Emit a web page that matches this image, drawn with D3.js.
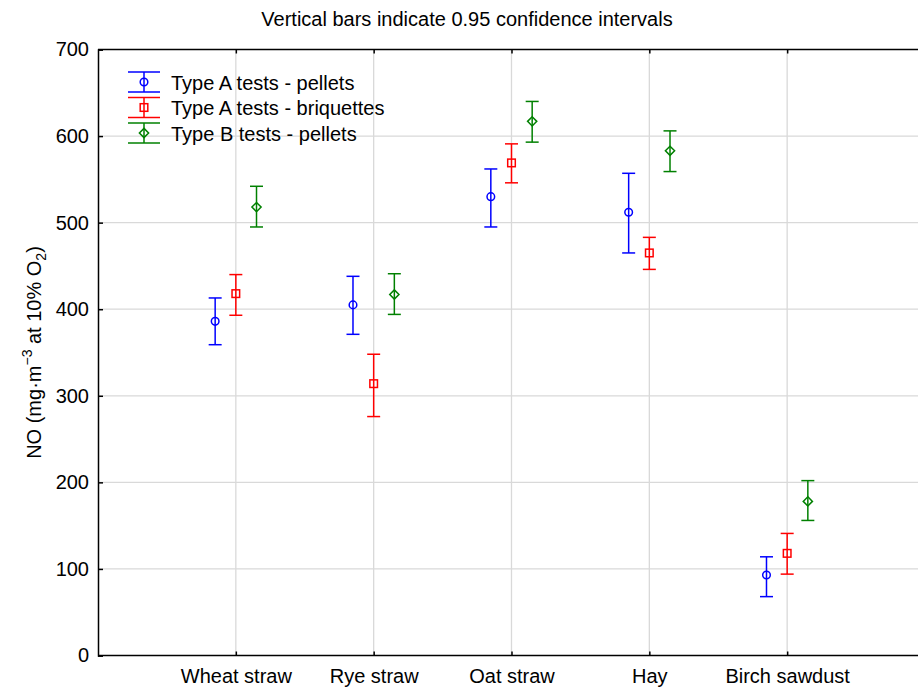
<!DOCTYPE html>
<html>
<head>
<meta charset="utf-8">
<script src="https://cdn.jsdelivr.net/npm/d3@7"></script>
<style>
  body { margin: 0; background: #fff; }
  svg { display: block; font-family: "Liberation Sans", Arial, sans-serif; }
</style>
</head>
<body>
<div id="chart"></div>
<script>
// categories and series
const categories = ['Wheat straw', 'Rye straw', 'Oat straw', 'Hay', 'Birch sawdust'];
const seriesNames = ['Type A tests - pellets', 'Type A tests - briquettes', 'Type B tests - pellets'];
const yTicks = [0, 100, 200, 300, 400, 500, 600, 700];

// means and 0.95 confidence limits, one value per category
const pelletsAMean = [386, 405, 530, 512, 93];
const pelletsALow  = [359, 371, 495, 465, 68];
const pelletsAHigh = [413, 438, 562, 557, 114];

const briqAMean = [418, 314, 569, 465, 118];
const briqALow  = [393, 276, 546, 446, 94];
const briqAHigh = [440, 348, 591, 483, 141];

const pelletsBMean = [518, 417, 617, 583, 178];
const pelletsBLow  = [495, 394, 593, 559, 156];
const pelletsBHigh = [542, 441, 640, 606, 202];

const W = 918, H = 689;
const plotLeft = 98, plotTop = 49.5, plotBottom = 655.5;
const fontSize = '20px';

const series = [
  { name: seriesNames[0], color: '#0000ff', shape: 'circle', offset: -0.15, mean: pelletsAMean, low: pelletsALow, high: pelletsAHigh },
  { name: seriesNames[1], color: '#ff0000', shape: 'square', offset: 0, mean: briqAMean, low: briqALow, high: briqAHigh },
  { name: seriesNames[2], color: '#008000', shape: 'diamond', offset: 0.15, mean: pelletsBMean, low: pelletsBLow, high: pelletsBHigh }
];

const svg = d3.select('#chart').append('svg')
  .attr('width', W)
  .attr('height', H);

const x = d3.scaleLinear().domain([0, 6]).range([plotLeft, 925]);
const y = d3.scaleLinear().domain([0, 700]).range([plotBottom, plotTop]);

// grid
svg.append('g').selectAll('line')
  .data(yTicks.slice(1, -1))
  .enter().append('line')
  .attr('x1', plotLeft).attr('x2', W)
  .attr('y1', d => y(d)).attr('y2', d => y(d))
  .attr('stroke', '#d9d9d9').attr('stroke-width', 1.3);

svg.append('g').selectAll('line')
  .data(categories)
  .enter().append('line')
  .attr('x1', (d, i) => x(i + 1)).attr('x2', (d, i) => x(i + 1))
  .attr('y1', plotTop).attr('y2', plotBottom)
  .attr('stroke', '#d9d9d9').attr('stroke-width', 1.3);

// axes
const yAxis = svg.append('g')
  .attr('transform', `translate(${plotLeft},0)`)
  .call(d3.axisLeft(y).tickValues(yTicks).tickSize(-5).tickPadding(9));

const xAxis = svg.append('g')
  .attr('transform', `translate(0,${plotBottom})`)
  .call(d3.axisBottom(x).tickValues([1, 2, 3, 4, 5]).tickSize(-4).tickPadding(13)
    .tickFormat(d => categories[d - 1]));

const topAxis = svg.append('g')
  .attr('transform', `translate(0,${plotTop})`)
  .call(d3.axisTop(x).tickValues([1, 2, 3, 4, 5]).tickSize(-4).tickFormat(''));

[yAxis, xAxis, topAxis].forEach(g => {
  g.select('.domain').attr('stroke', '#000').attr('stroke-width', 1.5);
  g.selectAll('.tick line').attr('stroke', '#000').attr('stroke-width', 1.5);
  g.selectAll('.tick text').attr('fill', '#000').style('font-size', fontSize)
    .style('font-family', '"Liberation Sans", Arial, sans-serif');
});
xAxis.select('.domain').attr('d', `M${plotLeft},0H${W}`);
topAxis.select('.domain').attr('d', `M${plotLeft},0H${W}`);

// title
svg.append('text')
  .attr('x', 467).attr('y', 26)
  .attr('text-anchor', 'middle')
  .style('font-size', fontSize)
  .text('Vertical bars indicate 0.95 confidence intervals');

// y label
const yl = svg.append('text')
  .attr('transform', `translate(41,${(plotTop + plotBottom) / 2}) rotate(-90)`)
  .attr('text-anchor', 'middle')
  .style('font-size', fontSize);
yl.append('tspan').text('NO (mg\u00b7m');
yl.append('tspan').attr('dy', -9).style('font-size', '14px').text('\u22123');
yl.append('tspan').attr('dy', 9).text(' at 10% O');
yl.append('tspan').attr('dy', 5).style('font-size', '14px').text('2');
yl.append('tspan').attr('dy', -5).text(')');

function marker(g, shape, cx, cy, color) {
  if (shape === 'circle') {
    g.append('circle').attr('cx', cx).attr('cy', cy).attr('r', 3.8)
      .attr('fill', 'none').attr('stroke', color).attr('stroke-width', 1.5);
  } else if (shape === 'square') {
    g.append('rect').attr('x', cx - 3.8).attr('y', cy - 3.8).attr('width', 7.6).attr('height', 7.6)
      .attr('fill', 'none').attr('stroke', color).attr('stroke-width', 1.5);
  } else {
    const s = 4.6;
    g.append('path').attr('d', `M${cx},${cy - s}L${cx + s},${cy}L${cx},${cy + s}L${cx - s},${cy}Z`)
      .attr('fill', 'none').attr('stroke', color).attr('stroke-width', 1.5);
  }
}

// error bars
series.forEach(s => {
  const g = svg.append('g');
  categories.forEach((c, i) => {
    const cx = x(i + 1 + s.offset);
    const cap = 6.5;
    g.append('line').attr('x1', cx).attr('x2', cx)
      .attr('y1', y(s.low[i])).attr('y2', y(s.high[i]))
      .attr('stroke', s.color).attr('stroke-width', 1.5);
    [s.low[i], s.high[i]].forEach(v => {
      g.append('line').attr('x1', cx - cap).attr('x2', cx + cap)
        .attr('y1', y(v)).attr('y2', y(v))
        .attr('stroke', s.color).attr('stroke-width', 1.5);
    });
    marker(g, s.shape, cx, y(s.mean[i]), s.color);
  });
});

// legend
const legend = svg.append('g');
series.forEach((s, i) => {
  const cy = 82 + i * 25.5;
  const cx = 144;
  legend.append('line').attr('x1', cx).attr('x2', cx).attr('y1', cy - 10).attr('y2', cy + 10)
    .attr('stroke', s.color).attr('stroke-width', 1.5);
  [cy - 10, cy + 10].forEach(v => {
    legend.append('line').attr('x1', cx - 16).attr('x2', cx + 16).attr('y1', v).attr('y2', v)
      .attr('stroke', s.color).attr('stroke-width', 1.5);
  });
  marker(legend, s.shape, cx, cy, s.color);
  legend.append('text').attr('x', 171).attr('y', cy + 7.5)
    .style('font-size', fontSize).text(s.name);
});
</script>
</body>
</html>
